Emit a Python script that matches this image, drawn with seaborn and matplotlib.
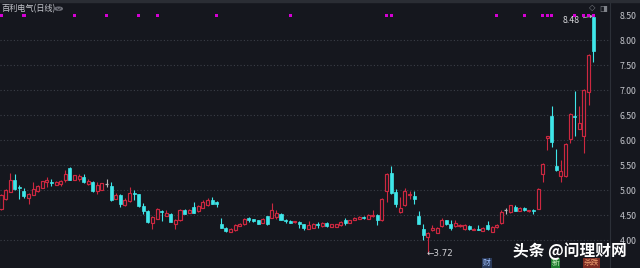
import matplotlib
matplotlib.use("Agg")
import matplotlib.pyplot as plt
import seaborn as sns
import numpy as np
import pandas as pd

# ---------------- data ----------------
opens = [4.63, 4.82, 4.97, 5.20, 5.05, 4.98, 4.85, 4.91, 4.98, 5.05,
         5.17, 5.15, 5.11, 5.13, 5.20, 5.45, 5.21, 5.23, 5.27, 5.13,
         5.17, 4.98, 5.01, 5.13, 5.09, 4.83, 4.90, 4.70, 4.78, 4.94,
         4.92, 4.68, 4.58, 4.35, 4.43, 4.57, 4.49, 4.53, 4.32, 4.40,
         4.60, 4.55, 4.67, 4.59, 4.65, 4.70, 4.80, 4.77, 4.32, 4.25,
         4.17, 4.20, 4.29, 4.32, 4.45, 4.42, 4.40, 4.35, 4.48, 4.45,
         4.47, 4.52, 4.40, 4.39, 4.36, 4.37, 4.32, 4.23, 4.25, 4.32,
         4.28, 4.35, 4.27, 4.27, 4.30, 4.40, 4.35, 4.41, 4.43, 4.46,
         4.43, 4.48, 4.51, 4.40, 4.98, 5.35, 4.97, 4.57, 4.70, 4.91,
         4.89, 4.48, 4.22, 4.07, 4.20, 4.15, 4.28, 4.40, 4.32, 4.28,
         4.28, 4.22, 4.28, 4.21, 4.22, 4.19, 4.30, 4.17, 4.27, 4.35,
         4.60, 4.57, 4.67, 4.59, 4.65, 4.58, 4.60, 4.63, 5.33, 6.04,
         6.48, 5.49, 5.28, 5.29, 6.03, 6.48, 6.23, 6.08, 6.97, 8.47]
highs = [4.92, 5.02, 5.35, 5.33, 5.10, 5.05, 4.95, 5.17, 5.11, 5.19,
         5.27, 5.22, 5.18, 5.20, 5.41, 5.46, 5.31, 5.32, 5.33, 5.22,
         5.18, 5.17, 5.15, 5.22, 5.17, 4.95, 4.92, 4.85, 5.07, 5.00,
         4.93, 4.75, 4.60, 4.48, 4.64, 4.60, 4.60, 4.54, 4.42, 4.62,
         4.62, 4.62, 4.77, 4.70, 4.80, 4.85, 4.87, 4.78, 4.45, 4.27,
         4.25, 4.33, 4.34, 4.45, 4.46, 4.43, 4.41, 4.44, 4.49, 4.75,
         4.60, 4.54, 4.43, 4.40, 4.37, 4.38, 4.33, 4.38, 4.34, 4.37,
         4.36, 4.37, 4.33, 4.33, 4.38, 4.45, 4.41, 4.46, 4.48, 4.48,
         4.52, 4.60, 4.53, 4.84, 5.34, 5.48, 5.03, 4.87, 5.05, 4.98,
         4.99, 4.58, 4.33, 4.16, 4.30, 4.27, 4.45, 4.41, 4.41, 4.40,
         4.33, 4.33, 4.30, 4.24, 4.30, 4.26, 4.39, 4.28, 4.33, 4.60,
         4.65, 4.71, 4.70, 4.66, 4.66, 4.61, 4.63, 5.04, 5.55, 6.08,
         6.69, 5.82, 5.60, 5.95, 6.54, 6.98, 6.69, 7.02, 7.72, 8.48]
lows = [4.60, 4.80, 4.96, 5.00, 4.83, 4.85, 4.73, 4.90, 4.97, 5.04,
        5.07, 5.08, 5.10, 5.09, 5.17, 5.20, 5.20, 5.18, 5.15, 5.11,
        4.97, 4.93, 5.00, 5.07, 4.79, 4.82, 4.67, 4.69, 4.77, 4.80,
        4.67, 4.53, 4.35, 4.23, 4.42, 4.39, 4.48, 4.36, 4.22, 4.39,
        4.52, 4.54, 4.54, 4.57, 4.64, 4.68, 4.72, 4.67, 4.24, 4.17,
        4.16, 4.19, 4.28, 4.31, 4.37, 4.37, 4.32, 4.34, 4.31, 4.44,
        4.43, 4.40, 4.35, 4.34, 4.35, 4.25, 4.20, 4.22, 4.24, 4.25,
        4.27, 4.27, 4.26, 4.26, 4.29, 4.30, 4.34, 4.40, 4.42, 4.43,
        4.42, 4.47, 4.31, 4.39, 4.77, 4.93, 4.67, 4.55, 4.68, 4.83,
        4.73, 4.32, 4.00, 3.72, 4.19, 4.14, 4.27, 4.30, 4.20, 4.27,
        4.27, 4.21, 4.21, 4.20, 4.20, 4.18, 4.20, 4.16, 4.25, 4.33,
        4.53, 4.55, 4.58, 4.58, 4.59, 4.57, 4.52, 4.62, 5.17, 5.80,
        5.87, 5.39, 5.17, 5.27, 5.95, 6.08, 6.22, 5.75, 6.71, 7.57]
closes = [4.90, 5.00, 5.20, 5.03, 5.04, 4.88, 4.93, 5.02, 5.09, 5.18,
          5.20, 5.14, 5.17, 5.18, 5.33, 5.21, 5.30, 5.29, 5.17, 5.19,
          4.98, 5.10, 5.14, 5.13, 4.81, 4.90, 4.73, 4.81, 4.95, 4.93,
          4.68, 4.58, 4.37, 4.47, 4.63, 4.56, 4.55, 4.37, 4.41, 4.61,
          4.53, 4.61, 4.55, 4.68, 4.77, 4.80, 4.73, 4.72, 4.25, 4.19,
          4.23, 4.30, 4.33, 4.43, 4.40, 4.38, 4.33, 4.43, 4.32, 4.61,
          4.55, 4.41, 4.39, 4.35, 4.37, 4.32, 4.25, 4.31, 4.33, 4.31,
          4.35, 4.28, 4.32, 4.32, 4.37, 4.35, 4.40, 4.45, 4.47, 4.45,
          4.51, 4.51, 4.40, 4.83, 5.33, 4.95, 4.72, 4.65, 4.98, 4.93,
          4.82, 4.33, 4.10, 4.15, 4.25, 4.25, 4.40, 4.33, 4.25, 4.35,
          4.31, 4.30, 4.22, 4.23, 4.21, 4.25, 4.22, 4.27, 4.31, 4.57,
          4.60, 4.70, 4.59, 4.65, 4.60, 4.60, 4.59, 5.03, 5.53, 6.08,
          5.96, 5.40, 5.39, 5.93, 6.53, 6.46, 6.35, 7.00, 7.70, 7.78]
equal_days = [23, 110]           # doji days drawn in grey
signal_days = [0, 5, 16, 23, 30, 34, 47, 63, 84, 85, 108, 114,
               118, 119, 120, 125, 127, 128, 129]
price_ticks = [4.00, 4.50, 5.00, 5.50, 6.00, 6.50, 7.00, 7.50, 8.00, 8.50]
title_text = "百利电气(日线)"
max_label = "8.48"
min_label = "3.72"
watermark = "头条 @问理财网"

# ---------------- style ----------------
BG = "#15171e"
RED = "#cc2840"
CYAN = "#3fe6e9"
GREY = "#b8b8b8"
GRID = "#3b3f48"
TXT = "#c4c6cc"

sns.set_theme(style="dark")
plt.rcParams["font.family"] = ["Noto Sans CJK SC", "DejaVu Sans"]

W, H = 640, 268
fig = plt.figure(figsize=(W / 100, H / 100), dpi=100, facecolor=BG)
ax = fig.add_axes([0, 0, 610 / W, 1])
ax.set_facecolor(BG)

n = len(opens)
df = pd.DataFrame({"i": np.arange(n), "o": opens, "h": highs, "l": lows, "c": closes})
df["top"] = df[["o", "c"]].max(axis=1)
df["bot"] = df[["o", "c"]].min(axis=1)

step = 4.59  # px per candle
ax.set_xlim(-1 / step, 609 / step)
ax.set_ylim(8.5 - 253 / 50, 8.5 + 15 / 50)

# grid
for p in price_ticks[:-1]:
    ax.axhline(p, color=GRID, lw=0.8, ls=(0, (1, 2)), zorder=0)

bw = 0.66
for _, r in df.iterrows():
    i = int(r.i)
    if i in equal_days or abs(r.c - r.o) < 1e-9:
        ax.vlines(i, r.l, r.h, color=GREY, lw=0.8, zorder=2)
        ax.hlines(r.c, i - bw / 2, i + bw / 2, color=GREY, lw=0.9, zorder=2)
    elif r.c > r.o:
        ax.vlines(i, r.top, r.h, color=RED, lw=0.8, zorder=2)
        ax.vlines(i, r.l, r.bot, color=RED, lw=0.8, zorder=2)
        ax.bar(i, max(r.top - r.bot, 0.012), bottom=r.bot, width=bw,
               facecolor=BG, edgecolor=RED, linewidth=0.85, zorder=3)
    else:
        ax.vlines(i, r.l, r.h, color=CYAN, lw=0.8, zorder=2)
        ax.bar(i, max(r.top - r.bot, 0.012), bottom=r.bot, width=bw,
               facecolor=CYAN, edgecolor=CYAN, linewidth=0.5, zorder=3)

# signal dots on top row
sig = pd.DataFrame({"x": signal_days, "y": [8.486] * len(signal_days)})
sns.scatterplot(data=sig, x="x", y="y", marker="s", s=5, color="#d400d4",
                edgecolor="none", ax=ax, zorder=4, legend=False)

# axes appearance
ax.set_xticks([])
ax.yaxis.tick_right()
ax.set_yticks(price_ticks)
ax.set_yticklabels([f"{t:.2f}" for t in price_ticks])
ax.tick_params(axis="y", length=0, pad=7, labelsize=6.3, labelcolor=TXT)
ax.set_xlabel("")
ax.set_ylabel("")
for s in ["top", "left", "bottom"]:
    ax.spines[s].set_visible(False)
ax.spines["right"].set_color("#2c3038")
ax.spines["right"].set_linewidth(0.8)
ax.grid(False)

# top bar
fig.patches.append(plt.Rectangle((0, 1 - 2 / H), 1, 2 / H, transform=fig.transFigure,
                                 color="#2a2d34", zorder=5))

# title and icon
fig.text(1 / W, 1 - 8.7 / H, title_text, color=TXT, fontsize=5.9, va="center", ha="left")
fig.patches.append(plt.Circle((58.7 / W, 1 - 8.7 / H), 3.6 / W, transform=fig.transFigure,
                              color="#6e7079", zorder=5))
fig.patches.append(plt.Polygon([(56.7 / W, 1 - 7.8 / H), (58.7 / W, 1 - 10.0 / H),
                                (60.7 / W, 1 - 7.8 / H)], closed=False, fill=False,
                               transform=fig.transFigure, ec="#2a2c33", lw=0.7, zorder=6))
fig.text(592 / W, 1 - 8 / H, "◇", color="#80838a", fontsize=6, ha="center", va="center",
         family=["DejaVu Sans"])
fig.text(603 / W, 1 - 8 / H, "◨", color="#80838a", fontsize=6, ha="center", va="center",
         family=["DejaVu Sans"])

# max annotation
imax = int(np.argmax(highs))
ax.annotate(max_label, xy=(imax, highs[imax]), xytext=(imax - 3.0, highs[imax] - 0.08),
            color="#d8d8dc", fontsize=6.3, ha="right", va="center",
            arrowprops=dict(arrowstyle="-|>", color="#b0b0b8", lw=0.6,
                            mutation_scale=4, shrinkA=0.5, shrinkB=0))
# min annotation
imin = int(np.argmin(lows))
ax.text(imin - 0.2, lows[imin], "←" + min_label, color="#d0d0d4", fontsize=6.3,
        ha="left", va="center", family=["DejaVu Sans"])

# bottom event badges
def badge(xpix, text, fc, tc):
    fig.text(xpix / W, 1 - 263 / H, text, color=tc, fontsize=5.6, ha="center", va="center",
             bbox=dict(boxstyle="square,pad=0.1", fc=fc, ec="none"))

badge(487, "财", "#2a3a5a", "#9fc0ff")
badge(555.5, "新", "#1f7a2e", "#c8f0c0")
badge(591.5, "杀跌", "#7a2a22", "#f0a070")

# watermark
fig.text(513 / W, 1 - 250.8 / H, watermark, color="white", fontsize=11.3,
         ha="left", va="center", fontweight="bold")

fig.savefig("out.png", dpi=100, facecolor=BG)
